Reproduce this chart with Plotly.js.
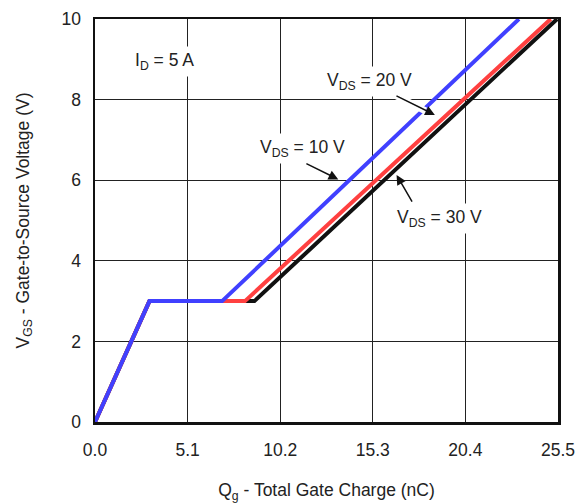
<!DOCTYPE html>
<html>
<head>
<meta charset="utf-8">
<script src="https://cdn.plot.ly/plotly-3.0.1.min.js"></script>
<style>html,body{margin:0;padding:0;background:#fff}#chart{width:576px;height:503px}</style>
</head>
<body>
<div id="chart"></div>
<script>
// Data
const qg_vds30 = [0, 3.0, 8.78, 25.45];
const vgs_vds30 = [0, 3.0, 3.0, 10];
const qg_vds20 = [0, 3.0, 8.26, 25.1];
const vgs_vds20 = [0, 3.0, 3.0, 10];
const qg_vds10 = [0, 3.0, 7.0, 23.35];
const vgs_vds10 = [0, 3.0, 3.0, 10];
const xTickVals = [0, 5.1, 10.2, 15.3, 20.4, 25.5];
const xTickText = ["0.0", "5.1", "10.2", "15.3", "20.4", "25.5"];
const yTickVals = [0, 2, 4, 6, 8, 10];

const font = {family: "Liberation Sans, Arial, sans-serif", size: 17.5, color: "#222"};

const traces = [
  {x: qg_vds30, y: vgs_vds30, mode: "lines", line: {color: "#111111", width: 4}, name: "VDS = 30 V"},
  {x: qg_vds20, y: vgs_vds20, mode: "lines", line: {color: "#FF4040", width: 4}, name: "VDS = 20 V"},
  {x: qg_vds10, y: vgs_vds10, mode: "lines", line: {color: "#4040FF", width: 4}, name: "VDS = 10 V"}
];

function halo(x, y, ax, ay) {
  return {x: x, y: y, ax: ax, ay: ay, xref: "x", yref: "y", axref: "x", ayref: "y",
    text: "", showarrow: true, arrowhead: 0, arrowwidth: 7, arrowcolor: "#ffffff"};
}
function arrow(x, y, ax, ay) {
  return {x: x, y: y, ax: ax, ay: ay, xref: "x", yref: "y", axref: "x", ayref: "y",
    text: "", showarrow: true, arrowhead: 2, arrowsize: 1.3, arrowwidth: 1.5, arrowcolor: "#111"};
}
function label(txt, x, y, xanchor) {
  return {x: x, y: y, xref: "x", yref: "y", text: txt, showarrow: false,
    xanchor: xanchor || "center", yanchor: "middle", bgcolor: "#ffffff", borderpad: 3, font: font};
}
function sub(s) { return "<sub style='font-size:14px'>" + s + "</sub>"; }

const annotations = [
  label("I" + sub("D") + " = 5 A", 2.0, 8.95, "left"),
  label("V" + sub("DS") + " = 20 V", 15.1, 8.45),
  label("V" + sub("DS") + " = 10 V", 11.43, 6.78),
  label("V" + sub("DS") + " = 30 V", 19.0, 5.05),
  halo(18.2, 7.72, 16.52, 8.11),
  halo(13.0, 6.1, 11.56, 6.43),
  halo(16.85, 5.95, 17.51, 5.43),
  arrow(18.72, 7.62, 16.52, 8.11),
  arrow(13.40, 6.02, 11.56, 6.43),
  arrow(16.61, 6.13, 17.51, 5.43)
];

const layout = {
  width: 576, height: 503,
  margin: {l: 95, r: 18, t: 19, b: 81},
  paper_bgcolor: "#ffffff", plot_bgcolor: "#ffffff",
  showlegend: false,
  font: font,
  xaxis: {
    range: [0, 25.5], tickvals: xTickVals, ticktext: xTickText,
    showgrid: true, gridcolor: "#222", gridwidth: 1, zeroline: false,
    showline: true, mirror: true, linecolor: "#111", linewidth: 2.5,
    ticks: "", ticklabelstandoff: 10, tickfont: font,
    title: {text: "Q" + sub("g") + " - Total Gate Charge (nC)", font: font, standoff: 26}
  },
  yaxis: {
    range: [0, 10], tickvals: yTickVals,
    showgrid: true, gridcolor: "#222", gridwidth: 1, zeroline: false,
    showline: true, mirror: true, linecolor: "#111", linewidth: 2.5,
    ticks: "", ticklabelstandoff: 8, tickfont: font,
    title: {text: "V" + sub("GS") + " - Gate-to-Source Voltage (V)", font: font, standoff: 28}
  },
  annotations: annotations
};

Plotly.newPlot("chart", traces, layout, {staticPlot: true, displayModeBar: false});
</script>
</body>
</html>
